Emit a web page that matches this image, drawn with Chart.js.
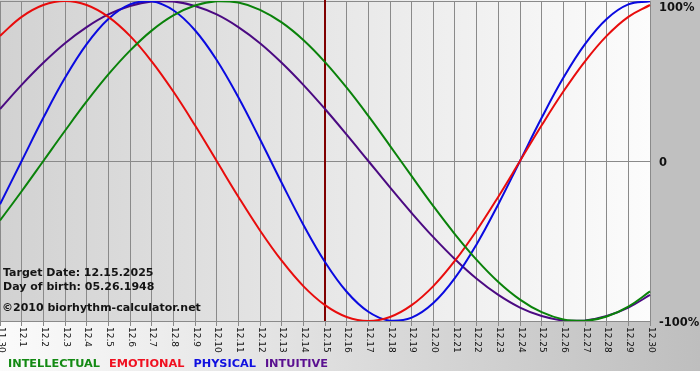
<!DOCTYPE html>
<html lang="en">
  <head>
    <meta charset="UTF-8" />
    <title>Biorhythm</title>
    <style>
      html, body { margin: 0; padding: 0; background: #fff; }
      #chart { display: block; }
    </style>
  </head>
  <body>
    <canvas id="chart" width="700" height="380"></canvas>

    <script src="https://cdn.jsdelivr.net/npm/chart.js@4.4.1/dist/chart.umd.min.js"></script>
    <script>
      // days shown on the x axis
      const days = [
        "11.30", "12.1", "12.2", "12.3", "12.4", "12.5", "12.6", "12.7", "12.8", "12.9",
        "12.10", "12.11", "12.12", "12.13", "12.14", "12.15", "12.16", "12.17", "12.18", "12.19",
        "12.20", "12.21", "12.22", "12.23", "12.24", "12.25", "12.26", "12.27", "12.28", "12.29", "12.30",
      ];
      const targetDay = "12.15";

      // cycle values, -1 .. 1
      const intellectual = [
        -0.372, -0.189, 0, 0.189, 0.372, 0.541, 0.69, 0.815, 0.91, 0.972, 0.999,
        0.99, 0.945, 0.866, 0.756, 0.618, 0.458, 0.282, 0.095, -0.095, -0.282,
        -0.458, -0.618, -0.756, -0.866, -0.945, -0.99, -0.999, -0.972, -0.91, -0.815,
      ];
      const emotional = [
        0.782, 0.901, 0.975, 1.0, 0.975, 0.901, 0.782, 0.623, 0.434, 0.223, 0,
        -0.223, -0.434, -0.623, -0.782, -0.901, -0.975, -1.0, -0.975, -0.901, -0.782,
        -0.623, -0.434, -0.223, 0, 0.223, 0.434, 0.623, 0.782, 0.901, 0.975,
      ];
      const physical = [
        -0.27, 0, 0.27, 0.52, 0.731, 0.888, 0.979, 0.998, 0.942, 0.817, 0.631,
        0.398, 0.136, -0.136, -0.398, -0.631, -0.817, -0.942, -0.998, -0.979, -0.888,
        -0.731, -0.52, -0.27, 0, 0.27, 0.52, 0.731, 0.888, 0.979, 0.998,
      ];
      const intuitive = [
        0.325, 0.476, 0.614, 0.736, 0.837, 0.916, 0.969, 0.997, 0.997, 0.969, 0.916,
        0.837, 0.736, 0.614, 0.476, 0.325, 0.165, 0, -0.165, -0.325, -0.476,
        -0.614, -0.736, -0.837, -0.916, -0.969, -0.997, -0.997, -0.969, -0.916, -0.837,
      ];

      const seriesNames = ["INTELLECTUAL", "EMOTIONAL", "PHYSICAL", "INTUITIVE"];
      const yTickValues = [1, 0, -1];
      const yTickLabels = ["100%", "0", "-100%"];
      const infoLines = [
        "Target Date: 12.15.2025",
        "Day of birth: 05.26.1948",
        "\u00a92010 biorhythm-calculator.net",
      ];

      const lineColors = ["#0a820a", "#e80c0c", "#0a0ae0", "#4b0a82"];
      const legendColors = ["#138a13", "#f01020", "#1010e0", "#5a1090"];
      const FONT = '"DejaVu Sans", Verdana, sans-serif';

      const decorPlugin = {
        id: "decor",
        beforeDraw(chart) {
          const ctx = chart.ctx;
          const a = chart.chartArea;
          ctx.save();
          ctx.fillStyle = "#fff";
          ctx.fillRect(0, 0, chart.width, chart.height);
          // strip under the plot
          let g = ctx.createLinearGradient(0, 0, chart.width, 0);
          g.addColorStop(0, "#fbfbfb");
          g.addColorStop(1, "#bebebe");
          ctx.fillStyle = g;
          ctx.fillRect(0, a.bottom, chart.width, 50);
          // right panel
          ctx.fillStyle = "#c0c0c0";
          ctx.fillRect(a.right, 0, chart.width - a.right, a.bottom);
          // plot background
          g = ctx.createLinearGradient(a.left, 0, a.right, 0);
          g.addColorStop(0, "#d2d2d2");
          g.addColorStop(1, "#fcfcfc");
          ctx.fillStyle = g;
          ctx.fillRect(a.left, 0, a.right - a.left, a.bottom);
          ctx.restore();
        },
        beforeDatasetsDraw(chart) {
          const ctx = chart.ctx;
          const a = chart.chartArea;
          const x = chart.scales.x.getPixelForValue(days.indexOf(targetDay));
          ctx.save();
          ctx.strokeStyle = "#800000";
          ctx.lineWidth = 2;
          ctx.beginPath();
          ctx.moveTo(x, 0);
          ctx.lineTo(x, a.bottom);
          ctx.stroke();
          ctx.restore();
        },
        afterDraw(chart) {
          const ctx = chart.ctx;
          const a = chart.chartArea;
          const xs = chart.scales.x;
          const ys = chart.scales.y;
          ctx.save();

          // x labels, turned to read downward
          ctx.fillStyle = "#111";
          ctx.font = "9px " + FONT;
          ctx.textAlign = "left";
          ctx.textBaseline = "middle";
          days.forEach((d, i) => {
            const x = xs.getPixelForTick(i);
            ctx.save();
            ctx.translate(x + 1, a.bottom + 6);
            ctx.rotate(Math.PI / 2);
            ctx.fillText(d, 0, 0);
            ctx.restore();
          });

          // y labels on the right
          ctx.font = "bold 11.5px " + FONT;
          yTickValues.forEach((v, i) => {
            const y = Math.max(ys.getPixelForValue(v) + 2, 8);
            ctx.fillText(yTickLabels[i], a.right + 9, y);
          });

          // info text
          ctx.font = "bold 11px " + FONT;
          ctx.textBaseline = "alphabetic";
          ctx.fillStyle = "#141414";
          ctx.fillText(infoLines[0], 3, 276);
          ctx.fillText(infoLines[1], 3, 290);
          ctx.fillText(infoLines[2], 2, 311);

          // legend
          let lx = 8;
          ctx.font = "bold 11.3px " + FONT;
          seriesNames.forEach((n, i) => {
            ctx.fillStyle = legendColors[i];
            ctx.fillText(n, lx, 367);
            lx += ctx.measureText(n).width + 9;
          });
          ctx.restore();
        },
      };

      const series = [intellectual, emotional, physical, intuitive];

      new Chart(document.getElementById("chart"), {
        type: "line",
        data: {
          labels: days,
          datasets: series.map((s, i) => ({
            label: seriesNames[i],
            data: s,
            borderColor: lineColors[i],
            borderWidth: 2,
            pointRadius: 0,
            tension: 0.4,
            fill: false,
          })),
        },
        options: {
          responsive: false,
          animation: false,
          devicePixelRatio: 1,
          layout: { padding: { top: 1, left: 0, right: 0, bottom: 0 } },
          plugins: {
            legend: { display: false },
            tooltip: { enabled: false },
          },
          scales: {
            x: {
              type: "category",
              offset: false,
              ticks: { display: false },
              grid: { color: "#8a8a8a", lineWidth: 1, drawTicks: true, tickLength: 5 },
              border: { color: "#8a8a8a" },
              afterFit: (s) => { s.height = 59; },
            },
            y: {
              position: "right",
              min: -1,
              max: 1,
              ticks: { display: false, stepSize: 1 },
              grid: { color: "#8a8a8a", lineWidth: 1, drawTicks: false },
              border: { display: false },
              afterFit: (s) => { s.width = 50; },
            },
          },
        },
        plugins: [decorPlugin],
      });
    </script>
  </body>
</html>
